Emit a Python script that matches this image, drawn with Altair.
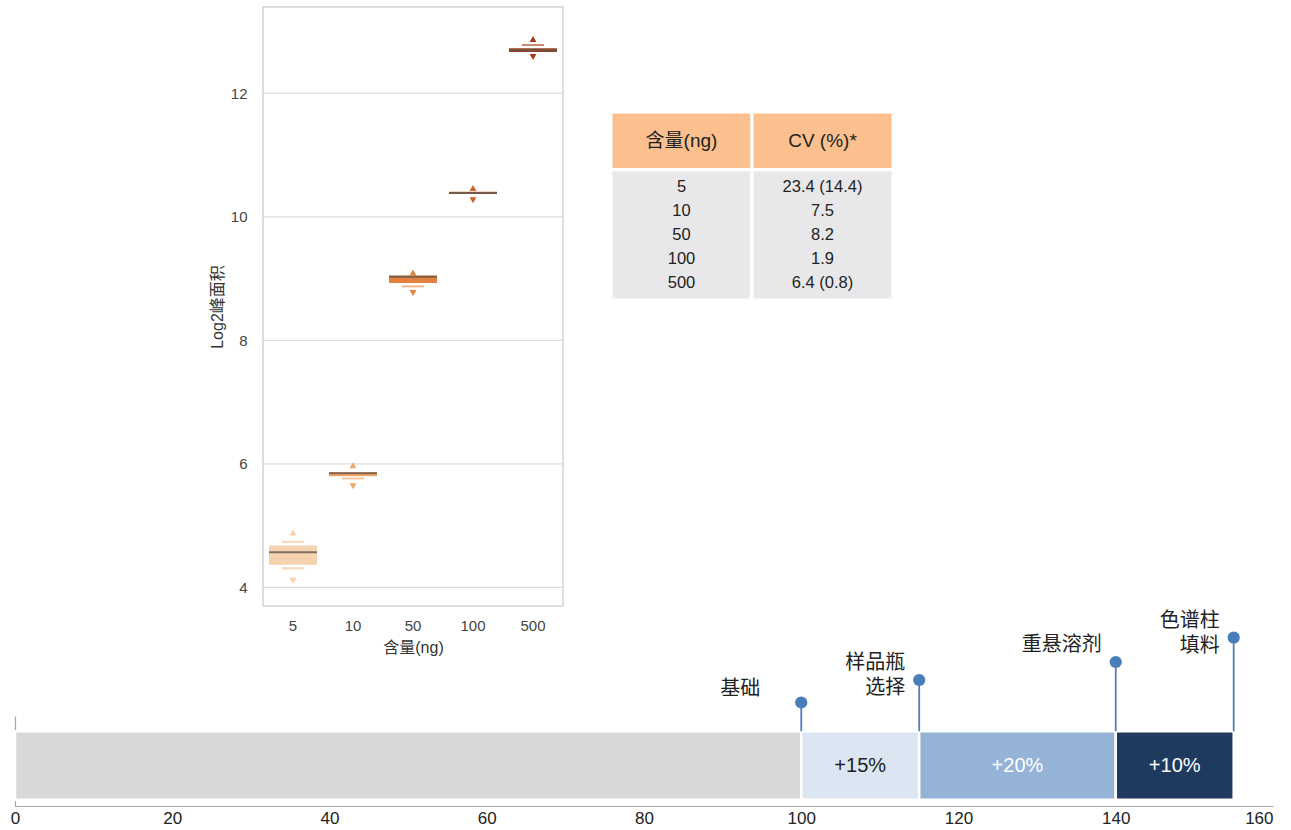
import altair as alt
import pandas as pd

# ---------------- letter-value (boxen) plot of log2 peak area ----------------
amounts = ["5", "10", "50", "100", "500"]
box_low = [4.37, 5.80, 8.93, 10.37, 12.67]
box_high = [4.68, 5.87, 9.05, 10.41, 12.73]
box_median = [4.57, 5.85, 9.03, 10.39, 12.70]
tail_high = [4.89, 5.98, 9.10, 10.47, 12.88]
tail_low = [4.11, 5.64, 8.77, 10.27, 12.59]

# narrower second-level boxes
level2_amount = ["5", "5", "10", "50", "500"]
level2_low = [4.72, 4.29, 5.75, 8.86, 12.77]
level2_high = [4.76, 4.33, 5.78, 8.89, 12.80]

box_colors = ["#f5d3b0", "#efa76a", "#e3823f", "#cf642a", "#a0401b"]
level2_colors = ["#f8dcc2", "#f5c49a", "#efb183", "#e49a6c", "#c98870"]
y_ticks = [4, 6, 8, 10, 12]
BOX_Y_DOMAIN = [3.7, 13.4]

# ---------------- CV table ----------------
table_header = ["含量(ng)", "CV (%)*"]
cv_amount = ["5", "10", "50", "100", "500"]
cv_value = ["23.4 (14.4)", "7.5", "8.2", "1.9", "6.4 (0.8)"]
table_colors = ["#fbc08d", "#e8e8eb"]

# ---------------- cumulative gain bar ----------------
seg_start = [0, 100, 115, 140]
seg_end = [100, 115, 140, 155]
seg_label = ["", "+15%", "+20%", "+10%"]
seg_colors = ["#d9d8d9", "#dce6f2", "#95b3d7", "#1f3a5f"]
step_label = ["基础", "样品瓶\n选择", "重悬溶剂", "色谱柱\n填料"]
step_x = [100, 115, 140, 155]
step_height = [1.15, 1.40, 1.60, 1.87]
gain_ticks = [0, 20, 40, 60, 80, 100, 120, 140, 160]

FONT = "Liberation Sans, Noto Sans CJK SC"
W, H = 1258, 799  # whole drawing area; the gain bar's axes sit on its left/bottom edges

# ===== boxen panel (occupies a sub-rectangle of the drawing area) =====
BOX_X_RANGE = [248, 548]
BOX_Y_RANGE = [599, 0]

bx = pd.DataFrame({"amount": amounts, "low": box_low, "high": box_high,
                   "median": box_median, "up": tail_high, "down": tail_low})
lv2 = pd.DataFrame({"amount": level2_amount, "low": level2_low, "high": level2_high})

x_amt = alt.X(
    "amount:N", sort=amounts, title="含量(ng)",
    scale=alt.Scale(domain=amounts, range=BOX_X_RANGE, paddingInner=0, paddingOuter=0),
    axis=alt.Axis(orient="bottom", offset=-(H - BOX_Y_RANGE[0]), labelAngle=0,
                  domain=False, ticks=False, grid=False,
                  labelFontSize=15, labelColor="#444", labelPadding=12,
                  titleFontSize=16, titleFontWeight="normal", titleColor="#333",
                  titlePadding=6),
)
y_scale = alt.Scale(domain=BOX_Y_DOMAIN, range=BOX_Y_RANGE, nice=False, zero=False)
y_axis = alt.Axis(orient="left", offset=-BOX_X_RANGE[0], values=y_ticks, grid=False,
                  domain=False, ticks=False, labelFontSize=15, labelColor="#444",
                  labelPadding=16, titleFontSize=16, titleFontWeight="normal",
                  titleColor="#333", titlePadding=5)
Y_TITLE = "Log2峰面积"
main_color = alt.Color("amount:N", scale=alt.Scale(domain=amounts, range=box_colors), legend=None)


def by(field):
    return alt.Y(field, scale=y_scale, axis=y_axis, title=Y_TITLE)


main_boxes = alt.Chart(bx).mark_bar(width=alt.RelativeBandSize(0.8)).encode(
    x=x_amt, y=by("low:Q"), y2="high:Q", color=main_color,
)
second_boxes = alt.Chart(lv2).mark_bar(width=alt.RelativeBandSize(0.37)).encode(
    x=x_amt, y=by("low:Q"), y2="high:Q",
    color=alt.Color("amount:N", scale=alt.Scale(domain=amounts, range=level2_colors), legend=None),
)
median_ticks = alt.Chart(bx).mark_tick(thickness=2, size=48, color="#65554d", opacity=0.8).encode(
    x=x_amt, y=by("median:Q"),
)
tail_up = alt.Chart(bx).mark_point(shape="triangle-up", filled=True, size=48, opacity=1).encode(
    x=x_amt, y=by("up:Q"), color=main_color,
)
tail_down = alt.Chart(bx).mark_point(shape="triangle-down", filled=True, size=48, opacity=1).encode(
    x=x_amt, y=by("down:Q"), color=main_color,
)
boxen = alt.layer(main_boxes, second_boxes, median_ticks, tail_up, tail_down).resolve_scale(
    color="independent"
)

# frame and horizontal grid of the boxen panel
fx = alt.Scale(domain=[0, len(amounts)], range=BOX_X_RANGE, nice=False, zero=False)
fy = alt.Scale(domain=BOX_Y_DOMAIN, range=BOX_Y_RANGE, nice=False, zero=False)
grid = alt.Chart(pd.DataFrame({"tick": y_ticks})).mark_rule(color="#dcdcdc", strokeWidth=1.2).encode(
    x=alt.XDatum(0, type="quantitative", scale=fx, axis=None),
    x2=alt.X2Datum(len(amounts)),
    y=alt.Y("tick:Q", scale=fy, axis=None),
)
frame = alt.Chart(pd.DataFrame({"k": [0]})).mark_rect(
    fillOpacity=0, stroke="#d4d4d4", strokeWidth=1.5
).encode(
    x=alt.XDatum(0, type="quantitative", scale=fx, axis=None),
    x2=alt.X2Datum(len(amounts)),
    y=alt.YDatum(BOX_Y_DOMAIN[0], type="quantitative", scale=fy, axis=None),
    y2=alt.Y2Datum(BOX_Y_DOMAIN[1]),
)
panel_frame = alt.layer(grid, frame)

# ===== CV table =====
tx = alt.Scale(domain=table_header, range=[596, 878], paddingInner=0, paddingOuter=0)
ty = alt.Scale(domain=[-2.4, 5.4], range=[105, 293], nice=False, zero=False)
span = {"header": (-2.4, 0.0), "body": (0.0, 5.4)}
cells = pd.DataFrame({
    "col": table_header * 2,
    "section": ["header", "header", "body", "body"],
})
cells["top"] = [span[s][0] for s in cells["section"]]
cells["bottom"] = [span[s][1] for s in cells["section"]]

cell_rects = alt.Chart(cells).mark_rect(stroke="white", strokeWidth=3).encode(
    x=alt.X("col:N", scale=tx, axis=None),
    y=alt.Y("top:Q", scale=ty, axis=None),
    y2="bottom:Q",
    color=alt.Color("section:N", scale=alt.Scale(domain=["header", "body"], range=table_colors), legend=None),
)
head = pd.DataFrame({"col": table_header, "pos": [-1.2, -1.2]})
head_text = alt.Chart(head).mark_text(fontSize=19, color="#222").encode(
    x=alt.X("col:N", scale=tx, axis=None),
    y=alt.Y("pos:Q", scale=ty, axis=None),
    text="col:N",
)
body = pd.DataFrame({
    "col": [table_header[0]] * len(cv_amount) + [table_header[1]] * len(cv_value),
    "text": cv_amount + cv_value,
    "pos": [i + 0.7 for i in range(len(cv_amount))] * 2,
})
body_text = alt.Chart(body).mark_text(fontSize=16.5, color="#222").encode(
    x=alt.X("col:N", scale=tx, axis=None),
    y=alt.Y("pos:Q", scale=ty, axis=None),
    text="text:N",
)
table = alt.layer(cell_rects, head_text, body_text)

# ===== gain bar with milestone pins =====
x_gain = alt.Scale(domain=[0, 160], range=[0, W], nice=False, zero=False)
y_gain = alt.Scale(domain=[0, 1], range=[H, H - 90], nice=False, zero=False)
BAR_BOTTOM, BAR_TOP = 0.07, 0.83

gain_x_axis = alt.Axis(
    values=gain_ticks, orient="bottom", grid=False, ticks=False,
    domainColor="#a6a6a6", domainWidth=1.2, labelFontSize=17, labelColor="#222",
    labelPadding=4, title="",
    labelAlign={"condition": {"test": "datum.value == 160", "value": "right"}, "value": "center"},
)
gain_y_axis = alt.Axis(orient="left", grid=False, ticks=False, labels=False,
                       domainColor="#a6a6a6", domainWidth=1.2, title="")


def gx(field):
    return alt.X(field, scale=x_gain, axis=gain_x_axis, title="")


def gy(field):
    return alt.Y(field, scale=y_gain, axis=gain_y_axis, title="")


def gy_datum(value):
    return alt.YDatum(value, type="quantitative", scale=y_gain, axis=gain_y_axis)


seg = pd.DataFrame({"idx": list(range(len(seg_start))), "start": seg_start,
                    "end": seg_end, "label": seg_label})
seg_bars = alt.Chart(seg).mark_rect(stroke="white", strokeWidth=2.5).encode(
    x=gx("start:Q"),
    x2="end:Q",
    y=gy_datum(BAR_BOTTOM),
    y2=alt.Y2Datum(BAR_TOP),
    color=alt.Color("idx:O", scale=alt.Scale(domain=list(range(len(seg_colors))), range=seg_colors), legend=None),
)
seg_text = alt.Chart(seg).transform_filter("datum.label != ''").transform_calculate(
    mid="(datum.start + datum.end) / 2"
).mark_text(fontSize=20).encode(
    x=gx("mid:Q"),
    y=gy_datum((BAR_BOTTOM + BAR_TOP) / 2),
    text="label:N",
    color=alt.condition("datum.idx >= 2", alt.value("white"), alt.value("#222")),
)

pins = pd.DataFrame({"idx": list(range(len(step_x))), "x": step_x,
                     "level": step_height, "label": step_label})
stems = alt.Chart(pins).mark_rule(color="#4f81bd", strokeWidth=1.8).encode(
    x=gx("x:Q"), y=gy("level:Q"), y2=alt.Y2Datum(BAR_TOP),
)
heads = alt.Chart(pins).mark_circle(size=150, color="#4a7ebb", opacity=1).encode(
    x=gx("x:Q"), y=gy("level:Q"),
)
step_text = alt.Chart(pins).transform_filter("datum.idx > 0").mark_text(
    align="right", baseline="bottom", dx=-14, dy=-7, fontSize=20,
    lineBreak="\n", lineHeight=25, color="#222",
).encode(x=gx("x:Q"), y=gy("level:Q"), text="label:N")
base_text = alt.Chart(pins).transform_filter("datum.idx == 0").mark_text(
    align="right", baseline="bottom", dx=-41, dy=-4, fontSize=20, color="#222",
).encode(x=gx("x:Q"), y=gy("level:Q"), text="label:N")
gain = alt.layer(seg_bars, seg_text, stems, heads, step_text, base_text)

chart = alt.layer(panel_frame, boxen, table, gain).resolve_scale(
    x="independent", y="independent", color="independent"
).properties(
    width=W, height=H,
    padding={"left": 10, "top": 6, "right": 10, "bottom": 4},
).configure(font=FONT).configure_view(stroke="transparent")

chart.save("out.html", embed_options={"renderer": "svg", "actions": False})
